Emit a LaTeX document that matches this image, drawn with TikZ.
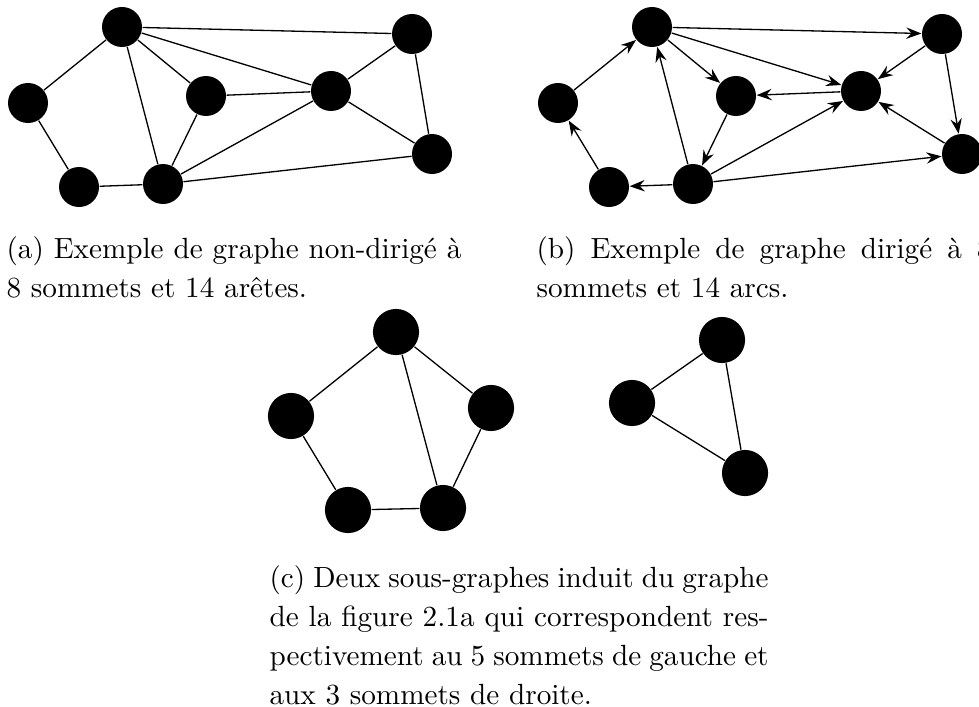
\documentclass[tikz,border=0pt]{standalone}
\usepackage{tikz}
\usetikzlibrary{arrows.meta}

\begin{document}
\begin{tikzpicture}[x=0.3425pt, y=-0.3425pt,
      vtx/.style={circle, fill=black, inner sep=0pt, minimum size=13.7pt},
      bigvtx/.style={vtx, minimum size=15.8pt},
      link/.style={draw, line width=0.45pt},
      arr/.style={link, -{Stealth[length=5.2pt, width=3.9pt, inset=1.8pt]}},
      capbox/.style={anchor=north west, inner sep=0pt, align=justify,
                  font=\fontsize{10}{13.4}\selectfont}
    ]
    \useasboundingbox (0,0) rectangle (979,706);
    % (a) graphe non-dirige
    \node[vtx] (a1) at (122,27) {};
    \node[vtx] (a2) at (28,103) {};
    \node[vtx] (a3) at (206,96) {};
    \node[vtx] (a4) at (331,91) {};
    \node[vtx] (a5) at (412,34) {};
    \node[vtx] (a6) at (432,154) {};
    \node[vtx] (a7) at (79,187) {};
    \node[vtx] (a8) at (163,184) {};
    \draw[link] (a1) -- (a2);
    \draw[link] (a1) -- (a8);
    \draw[link] (a1) -- (a3);
    \draw[link] (a1) -- (a4);
    \draw[link] (a1) -- (a5);
    \draw[link] (a2) -- (a7);
    \draw[link] (a7) -- (a8);
    \draw[link] (a8) -- (a3);
    \draw[link] (a8) -- (a4);
    \draw[link] (a8) -- (a6);
    \draw[link] (a3) -- (a4);
    \draw[link] (a4) -- (a5);
    \draw[link] (a4) -- (a6);
    \draw[link] (a5) -- (a6);
    \node[capbox, text width=155.8pt] (capa) at (6,236) {%
      (a) Exemple de graphe non-dirigé à\linebreak 8 sommets et 14 arêtes.};
    % (b) graphe dirige
    \node[vtx] (b1) at (652,27) {};
    \node[vtx] (b2) at (558,103) {};
    \node[vtx] (b3) at (736,96) {};
    \node[vtx] (b4) at (861,91) {};
    \node[vtx] (b5) at (942,34) {};
    \node[vtx] (b6) at (962,154) {};
    \node[vtx] (b7) at (609,187) {};
    \node[vtx] (b8) at (693,184) {};
    \draw[arr] (b2) -- (b1);
    \draw[arr] (b7) -- (b2);
    \draw[arr] (b8) -- (b7);
    \draw[arr] (b8) -- (b1);
    \draw[arr] (b1) -- (b3);
    \draw[arr] (b1) -- (b4);
    \draw[arr] (b1) -- (b5);
    \draw[arr] (b3) -- (b8);
    \draw[arr] (b4) -- (b3);
    \draw[arr] (b8) -- (b4);
    \draw[arr] (b8) -- (b6);
    \draw[arr] (b5) -- (b4);
    \draw[arr] (b5) -- (b6);
    \draw[arr] (b6) -- (b4);
    \node[capbox, text width=155.8pt] (capb) at (536,236) {%
      (b) Exemple de graphe dirigé à 8\linebreak sommets et 14 arcs.};
    % (c) sous-graphes induits
    \node[bigvtx] (c1) at (396,332) {};
    \node[bigvtx] (c2) at (291,416) {};
    \node[bigvtx] (c3) at (491,408) {};
    \node[bigvtx] (c4) at (348,510) {};
    \node[bigvtx] (c5) at (443,508) {};
    \node[bigvtx] (d1) at (722,340) {};
    \node[bigvtx] (d2) at (632,403) {};
    \node[bigvtx] (d3) at (745,473) {};
    \draw[link] (c1) -- (c2);
    \draw[link] (c1) -- (c3);
    \draw[link] (c1) -- (c5);
    \draw[link] (c2) -- (c4);
    \draw[link] (c4) -- (c5);
    \draw[link] (c5) -- (c3);
    \draw[link] (d1) -- (d2);
    \draw[link] (d2) -- (d3);
    \draw[link] (d1) -- (d3);
    \node[capbox, text width=170.9pt] (capc) at (269,565) {%
      (c) Deux sous-graphes induit du graphe\linebreak
      de la figure 2.1a qui correspondent res-\linebreak
      pectivement au 5 sommets de gauche et\linebreak
      aux 3 sommets de droite.};
  \end{tikzpicture}
\end{document}
